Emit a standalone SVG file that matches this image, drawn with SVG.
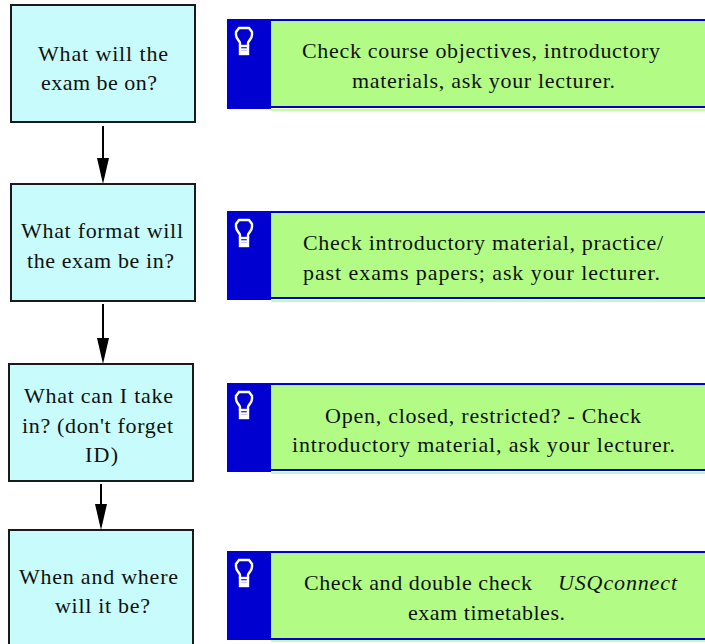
<svg xmlns="http://www.w3.org/2000/svg" xmlns:xlink="http://www.w3.org/1999/xlink" width="705" height="644" viewBox="0 0 705 644">
<style>
.q{fill:#c8fcfc;stroke:#1a1a1a;stroke-width:2}
.g{fill:#b2fc86}
.bl{fill:#0000d0}
.bd{stroke:#0000d0;stroke-width:2}
text{font-family:'Liberation Serif','Tinos','DejaVu Serif','Noto Serif',serif}
.t{font-size:22px;fill:#111;text-anchor:middle}
.c{stroke:#000;stroke-width:2;fill:none}
</style>
<defs>
<marker id="ah" markerWidth="26" markerHeight="12" refX="0" refY="6" orient="auto" markerUnits="userSpaceOnUse" viewBox="0 0 26 12">
<path d="M0,0 L26,6 L0,12 Z" fill="#000"/>
</marker>
<g id="bulb" fill="none" stroke="#fff" stroke-width="2.4">
<path d="M-4,17 L-4,14 C-4,12 -8,10 -8,6 L-8,3 L-5,-1 L5,-1 L8,3 L8,6 C8,10 4,12 4,14 L4,17"/>
<rect x="-4" y="17" width="8" height="8"/>
<line x1="-4" y1="20.5" x2="4" y2="20.5"/>
<line x1="-4" y1="23" x2="4" y2="23"/>
</g>
</defs>

<g id="connectors">
<line class="c" x1="103" y1="126" x2="103" y2="158" marker-end="url(#ah)"/>
<line class="c" x1="103" y1="304" x2="103" y2="338" marker-end="url(#ah)"/>
<line class="c" x1="101" y1="484" x2="101" y2="504" marker-end="url(#ah)"/>
</g>

<g id="q1">
<rect class="q" x="11" y="5" width="184" height="117"/>
<text class="t" x="103" y="61" textLength="130" lengthAdjust="spacing" font-family="Liberation Serif, serif">What will the</text>
<text class="t" x="99" y="90" textLength="116" lengthAdjust="spacing" font-family="Liberation Serif, serif">exam be on?</text>
</g>
<g id="q2">
<rect class="q" x="11" y="184" width="184" height="117"/>
<text class="t" x="102" y="238" textLength="162" lengthAdjust="spacing" font-family="Liberation Serif, serif">What format will</text>
<text class="t" x="100.5" y="268" textLength="147" lengthAdjust="spacing" font-family="Liberation Serif, serif">the exam be in?</text>
</g>
<g id="q3">
<rect class="q" x="9" y="364" width="184" height="117"/>
<text class="t" x="98.5" y="403" textLength="149" lengthAdjust="spacing" font-family="Liberation Serif, serif">What can I take</text>
<text class="t" x="97.5" y="433" textLength="151" lengthAdjust="spacing" font-family="Liberation Serif, serif">in? (don't forget</text>
<text class="t" x="101.5" y="462" textLength="33" lengthAdjust="spacing" font-family="Liberation Serif, serif">ID)</text>
</g>
<g id="q4">
<rect class="q" x="9" y="530" width="184" height="130"/>
<text class="t" x="98.5" y="584" textLength="159" lengthAdjust="spacing" font-family="Liberation Serif, serif">When and where</text>
<text class="t" x="102.5" y="613" textLength="95" lengthAdjust="spacing" font-family="Liberation Serif, serif">will it be?</text>
</g>

<g id="a1">
<line x1="271" y1="110" x2="705" y2="110" stroke="#b2fc86" stroke-width="1.5"/>
<rect class="g" x="271" y="20" width="434" height="88"/>
<line class="bd" x1="271" y1="20" x2="705" y2="20"/>
<line class="bd" x1="271" y1="107" x2="705" y2="107"/>
<rect class="bl" x="227" y="19" width="44" height="90"/>
<use xlink:href="#bulb" x="244" y="29"/>
<text class="t" x="481" y="58" textLength="358" lengthAdjust="spacing" font-family="Liberation Serif, serif">Check course objectives, introductory</text>
<text class="t" x="483.5" y="88" textLength="263" lengthAdjust="spacing" font-family="Liberation Serif, serif">materials, ask your lecturer.</text>
</g>
<g id="a2">
<line x1="271" y1="301" x2="705" y2="301" stroke="#b2fc86" stroke-width="1.5"/>
<rect class="g" x="271" y="212" width="434" height="87"/>
<line class="bd" x1="271" y1="212" x2="705" y2="212"/>
<line class="bd" x1="271" y1="298" x2="705" y2="298"/>
<rect class="bl" x="227" y="211" width="44" height="89"/>
<use xlink:href="#bulb" x="244" y="221"/>
<text class="t" x="483" y="250" textLength="360" lengthAdjust="spacing" font-family="Liberation Serif, serif">Check introductory material, practice/</text>
<text class="t" x="481.5" y="280" textLength="357" lengthAdjust="spacing" font-family="Liberation Serif, serif">past exams papers; ask your lecturer.</text>
</g>
<g id="a3">
<line x1="271" y1="473" x2="705" y2="473" stroke="#b2fc86" stroke-width="1.5"/>
<rect class="g" x="271" y="384" width="434" height="87"/>
<line class="bd" x1="271" y1="384" x2="705" y2="384"/>
<line class="bd" x1="271" y1="470" x2="705" y2="470"/>
<rect class="bl" x="227" y="383" width="44" height="89"/>
<use xlink:href="#bulb" x="244" y="393"/>
<text class="t" x="483" y="423" textLength="316" lengthAdjust="spacing" font-family="Liberation Serif, serif">Open, closed, restricted? - Check</text>
<text class="t" x="483.5" y="452" textLength="383" lengthAdjust="spacing" font-family="Liberation Serif, serif">introductory material, ask your lecturer.</text>
</g>
<g id="a4">
<line x1="271" y1="641" x2="705" y2="641" stroke="#b2fc86" stroke-width="1.5"/>
<rect class="g" x="271" y="552" width="434" height="87"/>
<line class="bd" x1="271" y1="552" x2="705" y2="552"/>
<line class="bd" x1="271" y1="639" x2="705" y2="639"/>
<rect class="bl" x="227" y="551" width="44" height="89"/>
<use xlink:href="#bulb" x="244" y="561"/>
<text class="t" x="418" y="590" textLength="228" lengthAdjust="spacing" font-family="Liberation Serif, serif">Check and double check</text>
<text class="t" x="617.5" y="590" textLength="119" lengthAdjust="spacing" font-style="italic" font-family="Liberation Serif, serif">USQconnect</text>
<text class="t" x="486.5" y="620" textLength="157" lengthAdjust="spacing" font-family="Liberation Serif, serif">exam timetables.</text>
</g>
</svg>
